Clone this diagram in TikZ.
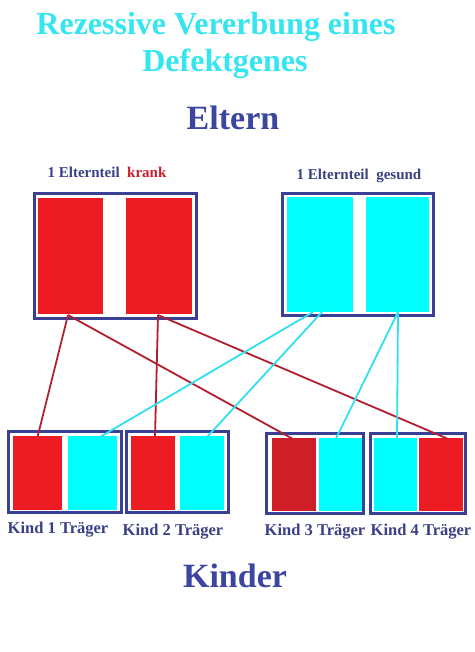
\documentclass[tikz,border=0pt]{standalone}
\usepackage{fontspec}
\setmainfont{Liberation Serif}
\definecolor{chrred}{HTML}{ED1C24}
\definecolor{chrredB}{HTML}{D01E28}
\definecolor{chrcyan}{HTML}{00FFFF}
\definecolor{boxblue}{HTML}{3A4096}
\definecolor{txtblue}{HTML}{3C45A0}
\definecolor{lblblue}{HTML}{3A4085}
\definecolor{titlecyan}{HTML}{35E6F0}
\definecolor{linered}{HTML}{B01E30}
\definecolor{linecyan}{HTML}{30E0F0}
\definecolor{txtred}{HTML}{C8202C}
\begin{document}
\begin{tikzpicture}[x=1pt,y=-1pt,
  cell/.style={rectangle,inner sep=0pt,outer sep=0pt,minimum width=#1},
  redcell/.style={cell=#1,fill=chrred},
  cyancell/.style={cell=#1,fill=chrcyan},
  frame/.style={rectangle,inner sep=0pt,outer sep=0pt,draw=boxblue,line width=3pt},
  redline/.style={draw=linered,line width=1.8pt},
  cyanline/.style={draw=linecyan,line width=1.8pt},
  lbl/.style={anchor=base,font=\fontsize{15}{17}\selectfont\bfseries,text=lblblue,inner sep=0pt},
  kidlbl/.style={anchor=base,font=\fontsize{16.5}{18}\selectfont\bfseries,text=lblblue,inner sep=0pt},
  big/.style={anchor=base,font=\fontsize{34}{36}\selectfont\bfseries,text=txtblue,inner sep=0pt},
  ttl/.style={anchor=base,font=\fontsize{32}{34}\selectfont\bfseries,text=titlecyan,inner sep=0pt}]
\useasboundingbox (0,0) rectangle (474,652);
\fill[white] (0,0) rectangle (474,652);

% titles
\node[ttl] (t1) at (216,35) {Rezessive Vererbung eines};
\node[ttl] (t2) at (225,72) {Defektgenes};
\node[big] (eltern) at (233,130) {Eltern};
\node[big] (kinder) at (235,587) {Kinder};

% parent labels
\node[lbl] (l1) at (107,178) {1 Elternteil\ \ \textcolor{txtred}{krank}};
\node[lbl] (l2) at (359,180) {1 Elternteil\ \ gesund};

% parent boxes
\node[frame,minimum width=162pt,minimum height=125pt] (P1) at (115.5,256) {};
\node[redcell=65pt,minimum height=116pt] (P1a) at (70.5,256) {};
\node[redcell=66pt,minimum height=116pt] (P1b) at (159,256) {};

\node[frame,minimum width=151pt,minimum height=122pt] (P2) at (358,254.5) {};
\node[cyancell=66pt,minimum height=115pt] (P2a) at (320,254.5) {};
\node[cyancell=63pt,minimum height=115pt] (P2b) at (397.5,254.5) {};

% child boxes
\node[frame,minimum width=113pt,minimum height=81pt] (K1) at (65,472) {};
\node[redcell=49pt,minimum height=74pt] (K1a) at (37.5,473) {};
\node[cyancell=49pt,minimum height=74pt] (K1b) at (92.5,473) {};

\node[frame,minimum width=102pt,minimum height=81pt] (K2) at (177.5,472) {};
\node[redcell=44pt,minimum height=74pt] (K2a) at (153,473) {};
\node[cyancell=44pt,minimum height=74pt] (K2b) at (202,473) {};

\node[frame,minimum width=97pt,minimum height=80pt] (K3) at (315,473.5) {};
\node[cell=44pt,fill=chrredB,minimum height=73pt] (K3a) at (294,474) {};
\node[cyancell=43pt,minimum height=73pt] (K3b) at (340.5,474) {};

\node[frame,minimum width=95pt,minimum height=80pt] (K4) at (418,473.5) {};
\node[cyancell=43pt,minimum height=73pt] (K4a) at (395.5,474) {};
\node[redcell=44pt,minimum height=73pt] (K4b) at (441,474) {};

% child labels
\node[kidlbl] (kl1) at (58,533) {Kind 1 Träger};
\node[kidlbl] (kl2) at (173,535) {Kind 2 Träger};
\node[kidlbl] (kl3) at (315,535) {Kind 3 Träger};
\node[kidlbl] (kl4) at (421,535) {Kind 4 Träger};

% connectors
\draw[redline] ([xshift=-2.5pt,yshift=-1pt]P1a.south) -- ([yshift=-1pt]K1a.north);
\draw[redline] ([xshift=-2.5pt,yshift=-1pt]P1a.south) -- ([xshift=-2pt,yshift=-1pt]K3a.north);
\draw[redline] ([xshift=-1pt,yshift=-1pt]P1b.south) -- ([xshift=2pt,yshift=-1pt]K2a.north);
\draw[redline] ([xshift=-1pt,yshift=-1pt]P1b.south) -- ([xshift=6pt,yshift=-1pt]K4b.north);
\draw[cyanline] ([xshift=-7pt]P2a.south) -- ([xshift=7.5pt,yshift=-1pt]K1b.north);
\draw[cyanline] ([xshift=2pt]P2a.south) -- ([xshift=5pt,yshift=-1pt]K2b.north);
\draw[cyanline] ([xshift=0.5pt]P2b.south) -- ([xshift=-4.5pt,yshift=-1pt]K3b.north);
\draw[cyanline] ([xshift=0.5pt]P2b.south) -- ([xshift=1.5pt,yshift=-1pt]K4a.north);
\end{tikzpicture}
\end{document}
